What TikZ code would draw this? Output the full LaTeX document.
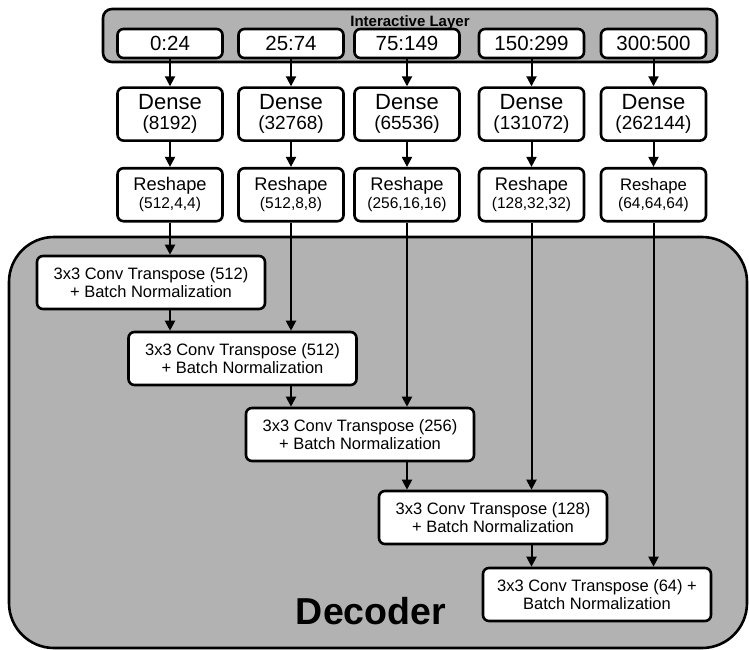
\documentclass[tikz,border=0pt]{standalone}
\usepackage{fontspec}
\setmainfont{Liberation Sans}
\usetikzlibrary{arrows.meta, positioning}
\newcommand*{\fs}[2]{\fontsize{#1}{#2}\selectfont}
\definecolor{panelgray}{RGB}{178,178,178}
\tikzstyle{block} = [draw, fill=white, line width=2.6pt, rounded corners=6pt, inner sep=0pt, align=center]
\tikzstyle{slice} = [block, minimum width=105pt, minimum height=29pt, font=\fs{20.5}{22}]
\tikzstyle{dense} = [block, minimum width=105pt, minimum height=53pt, font=\fs{19}{20}]
\tikzstyle{reshape} = [block, minimum width=105pt, minimum height=53pt, font=\fs{15.5}{18}]
\tikzstyle{conv} = [block, minimum width=228pt, minimum height=53pt, font=\fs{16.5}{18}]
\tikzstyle{panel} = [draw, fill=panelgray, line width=2.6pt, inner sep=0pt]
\tikzstyle{flow} = [-{Triangle[length=10pt, width=10pt]}, line width=2pt]

\begin{document}
\begin{tikzpicture}[x=1pt, y=-1pt, node distance=27pt]
    \useasboundingbox (0,0) rectangle (749,650);

    % Panels.
    \node (decoder) [panel, rounded corners=45pt, minimum width=738pt, minimum height=411pt] at (378,442.5) {};
    \node (decoder label) [font=\bfseries\fs{37.5}{40}] at (371,611) {Decoder};
    \node (interactive) [panel, rounded corners=9pt, minimum width=614pt, minimum height=53pt] at (410,35.5) {};
    \node (interactive label) [font=\bfseries\fs{15}{16}, inner sep=0pt, anchor=base] at (410,26.5) {Interactive Layer};

    % Slices, dense, reshape.
    \foreach \i/\x/\r in {1/170/0:24, 2/291/25:74, 3/407/75:149, 4/531.5/150:299, 5/653.5/300:500} {
        \node (slice\i) [slice] at (\x,43.5) {\r};
    }

    \foreach \i/\n/\s/\f in {1/8192/{(512,4,4)}/18.3, 2/32768/{(512,8,8)}/18.3, 3/65536/{(256,16,16)}/18.3,
                             4/131072/{(128,32,32)}/18.3, 5/262144/{(64,64,64)}/16.7} {
        \node (dense\i) [dense, below=of slice\i] {{\fs{22}{20}Dense}\\(\n)};
        \node (reshape\i) [reshape, below=25pt of dense\i] {{\fs{\f}{18}Reshape}\\\s};
    }

    % Decoder blocks.
    \node (conv1) [conv] at (151,282.5) {3x3 Conv Transpose (512)\\+ Batch Normalization};
    \node (conv2) [conv] at (242.5,358.5) {3x3 Conv Transpose (512)\\+ Batch Normalization};
    \node (conv3) [conv] at (360,434.5) {3x3 Conv Transpose (256)\\+ Batch Normalization};
    \node (conv4) [conv] at (493,517.5) {3x3 Conv Transpose (128)\\+ Batch Normalization};
    \node (conv5) [conv] at (597,594.5) {3x3 Conv Transpose (64) +\\Batch Normalization};

    % Arrows.
    \foreach \i in {1,...,5} {
        \draw [flow] (slice\i) -- (dense\i);
        \draw [flow] (dense\i) -- (reshape\i);
        \draw [flow] (reshape\i) -- (reshape\i |- conv\i.north);
    }

    \foreach \i/\j in {1/2, 2/3, 3/4, 4/5} {
        \draw [flow] (conv\i.south -| reshape\i) -- (conv\j.north -| reshape\i);
    }
\end{tikzpicture}
\end{document}
